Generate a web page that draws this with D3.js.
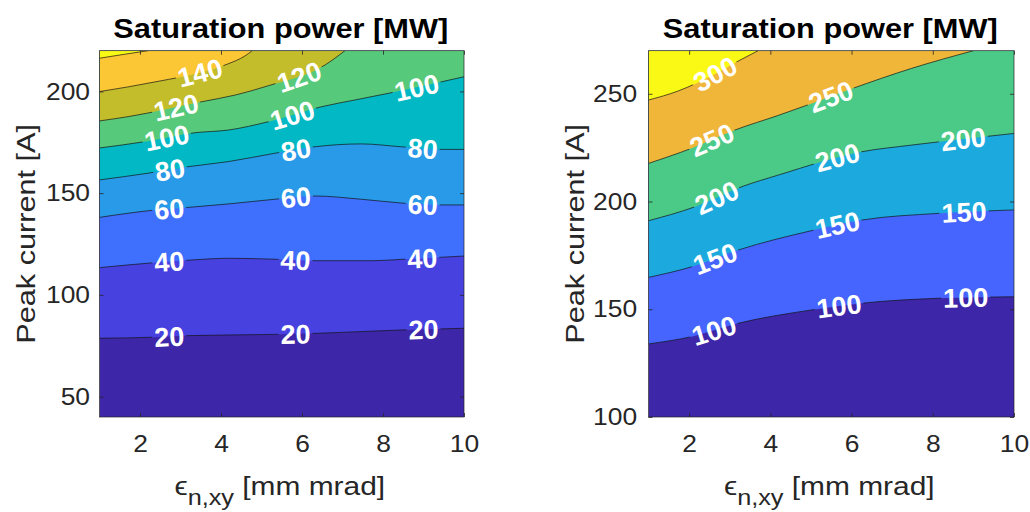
<!DOCTYPE html>
<html>
<head>
<meta charset="utf-8">
<script src="https://cdn.jsdelivr.net/npm/d3@7"></script>
<style>
  body { margin: 0; background: #fff; }
  svg { display: block; }
</style>
</head>
<body>
<svg id="fig" width="1030" height="512"></svg>
<script>
// ---------- shared axis data ----------
const xTicks = [2, 4, 6, 8, 10];
const xDomain = [1, 10];

// ---------- left panel: saturation power, levels 20..160 MW ----------
const leftYDomain = [40, 220];
const leftYTicks = [50, 100, 150, 200];
const leftLevels = [20, 40, 60, 80, 100, 120, 140, 160];
const leftColors = ["#3e26a8", "#4641df", "#3f6ffd", "#289ae8", "#02b8c4", "#57c97a", "#c3bd2b", "#fcc734", "#f8fa16"];
// contour lines as [emittance, peak current] points
const left20  = [[1, 78.7], [2.33, 79.2], [3.23, 80.0], [5.37, 80.6], [6.36, 81.1], [8.49, 82.8], [10, 83.6]];
const left40  = [[1, 113.4], [2.33, 115.8], [3.23, 117.1], [4.22, 118.0], [5.37, 117.5], [6.36, 116.8], [7.75, 116.8], [8.49, 117.5], [10, 119.1]];
const left60  = [[1, 138.1], [2.37, 141.7], [3.19, 143.0], [4.18, 144.7], [5.33, 147.0], [6.32, 148.6], [7.47, 147.0], [8.54, 145.0], [9.44, 144.2], [10, 144.2]];
const left80  = [[1, 156.5], [2.2, 159.8], [3.19, 163.0], [4.18, 165.5], [5.33, 169.6], [6.32, 172.8], [7.47, 174.2], [8.45, 172.8], [9.44, 171.5], [10, 171.5]];
const left100 = [[1, 172.2], [2.12, 175.3], [3.36, 179.7], [4.18, 181.0], [5.17, 185.1], [6.49, 192.5], [7.31, 195.8], [8.17, 199.2], [10, 207.2]];
const left120 = [[1, 185.5], [1.71, 187.6], [3.52, 194.9], [4.35, 198.2], [5.17, 202.8], [6.57, 213.0], [7.06, 220]];
const left140 = [[1, 199.9], [1.70, 202.2], [2.49, 205.1], [3.36, 208.6], [4.17, 213.5], [4.59, 217.4], [4.77, 220]];
const left160 = [[1, 216.3], [1.6, 218.2], [2.2, 220]];
// inline labels: [level, emittance position]
const leftLabels = [
  [20, 2.72], [20, 5.84], [20, 9.0],
  [40, 2.72], [40, 5.84], [40, 8.97],
  [60, 2.72], [60, 5.85], [60, 8.98],
  [80, 2.74], [80, 5.85], [80, 8.98],
  [100, 2.66], [100, 5.76], [100, 8.83],
  [120, 2.89], [120, 5.93],
  [140, 3.48]
];

// ---------- right panel: saturation power, levels 100..300 MW ----------
const rightYDomain = [100, 270];
const rightYTicks = [100, 150, 200, 250];
const rightLevels = [100, 150, 200, 250, 300];
const rightColors = ["#3e26a8", "#4565fe", "#1caade", "#4bca87", "#efb639", "#f9f915"];
const right100 = [[1, 133.9], [2.06, 137.3], [3.21, 143.5], [5.02, 149.7], [6.25, 152.8], [8.14, 155.1], [10, 155.8]];
const right150 = [[1, 164.8], [2.06, 169.7], [3.21, 177.5], [5.02, 186.5], [6.25, 191.4], [8.14, 194.5], [10, 196.1]];
const right200 = [[1, 191.1], [2.15, 197.6], [3.30, 206.9], [4.2, 212.3], [6.25, 223.1], [7.48, 226.2], [10, 231.6]];
const right250 = [[1, 217.7], [2.06, 224.7], [3.13, 233.2], [4.2, 240.0], [5.02, 245.5], [6.0, 252.3], [7.48, 261.8], [9.0, 270]];
const right300 = [[1, 247.1], [1.73, 251.3], [2.64, 259.2], [3.21, 265.2], [3.70, 270]];
const rightLabels = [
  [100, 2.61], [100, 5.69], [100, 8.81],
  [150, 2.64], [150, 5.65], [150, 8.77],
  [200, 2.68], [200, 5.65], [200, 8.75],
  [250, 2.56], [250, 5.49],
  [300, 2.64]
];

// ---------- drawing ----------
const W = 1030, H = 512;
const PLOT_TOP = 50.7, PLOT_BOTTOM = 417;
const FONT = "'Liberation Sans', Arial, Helvetica, sans-serif";
const AXIS_INK = "#262626";
const LABEL_SIZE = 27;

const svg = d3.select("#fig");
const defs = svg.append("defs");

function panel(opt) {
  const x = d3.scaleLinear().domain(xDomain).range([opt.x0, opt.x1]);
  const y = d3.scaleLinear().domain(opt.yDomain).range([PLOT_BOTTOM, PLOT_TOP]);
  const g = svg.append("g");
  const yTop = y(opt.yDomain[1]), yBot = y(opt.yDomain[0]);
  const xL = x(xDomain[0]), xR = x(xDomain[1]);

  defs.append("clipPath").attr("id", opt.id + "-clip")
    .append("rect").attr("x", xL).attr("y", yTop)
    .attr("width", xR - xL).attr("height", yBot - yTop);

  const plot = g.append("g").attr("clip-path", `url(#${opt.id}-clip)`);

  // filled bands: lowest band first, each level paints the region above its line
  plot.append("rect").attr("x", xL).attr("y", yTop)
    .attr("width", xR - xL).attr("height", yBot - yTop)
    .attr("fill", opt.colors[0]);

  const line = d3.line().x(d => x(d[0])).y(d => y(d[1])).curve(d3.curveMonotoneX);

  opt.lines.forEach((pts, i) => {
    const last = pts[pts.length - 1];
    plot.append("path")
      .attr("d", line(pts) + `L${x(last[0])},${yTop}L${xL},${yTop}Z`)
      .attr("fill", opt.colors[i + 1]);
  });

  // contour strokes, with gaps where the labels sit
  const mask = defs.append("mask").attr("id", opt.id + "-mask")
    .attr("maskUnits", "userSpaceOnUse")
    .attr("x", 0).attr("y", 0).attr("width", W).attr("height", H);
  mask.append("rect").attr("width", W).attr("height", H).attr("fill", "#fff");

  const strokes = plot.append("g").attr("mask", `url(#${opt.id}-mask)`);
  const byLevel = new Map();
  opt.lines.forEach((pts, i) => {
    const p = strokes.append("path")
      .attr("d", line(pts))
      .attr("fill", "none")
      .attr("stroke", "#141414")
      .attr("stroke-width", 0.7);
    byLevel.set(opt.levels[i], p.node());
  });

  const labelG = plot.append("g");
  opt.labels.forEach(([lev, xv]) => {
    const node = byLevel.get(lev);
    const target = x(xv);
    const len = node.getTotalLength();
    let lo = 0, hi = len;
    for (let k = 0; k < 40; k++) {
      const mid = (lo + hi) / 2;
      if (node.getPointAtLength(mid).x < target) lo = mid; else hi = mid;
    }
    const s = (lo + hi) / 2;
    const p = node.getPointAtLength(s);
    const a = node.getPointAtLength(Math.max(0, s - 10));
    const b = node.getPointAtLength(Math.min(len, s + 10));
    const ang = Math.atan2(b.y - a.y, b.x - a.x) * 180 / Math.PI;
    const tf = `translate(${p.x},${p.y}) rotate(${ang})`;
    const t = labelG.append("text")
      .attr("transform", tf)
      .attr("text-anchor", "middle")
      .attr("dy", "0.36em")
      .attr("font-family", FONT)
      .attr("font-weight", "bold")
      .attr("font-size", LABEL_SIZE)
      .attr("fill", "#fff")
      .text(lev);
    const w = t.node().getComputedTextLength();
    mask.append("rect")
      .attr("x", -w / 2 - 2).attr("y", -11)
      .attr("width", w + 4).attr("height", 22)
      .attr("transform", tf)
      .attr("fill", "#000");
  });

  // axes: inward ticks on all four sides
  const styleAxis = sel => {
    sel.select(".domain").remove();
    sel.attr("font-family", FONT).attr("font-size", 24);
    sel.selectAll(".tick line").attr("stroke", AXIS_INK).attr("stroke-width", 0.8);
    sel.selectAll(".tick text").attr("fill", AXIS_INK).attr("transform", "scale(1.1,1)");
  };
  g.append("g").attr("transform", `translate(0,${yBot})`)
    .call(d3.axisBottom(x).tickValues(xTicks).tickSizeInner(-4).tickSizeOuter(0).tickPadding(18))
    .call(styleAxis);
  g.append("g").attr("transform", `translate(0,${yTop})`)
    .call(d3.axisTop(x).tickValues(xTicks).tickSizeInner(-4).tickSizeOuter(0).tickFormat(""))
    .call(styleAxis);
  g.append("g").attr("transform", `translate(${xL},0)`)
    .call(d3.axisLeft(y).tickValues(opt.yTicks).tickSizeInner(-4).tickSizeOuter(0).tickPadding(opt.yPad))
    .call(styleAxis);
  g.append("g").attr("transform", `translate(${xR},0)`)
    .call(d3.axisRight(y).tickValues(opt.yTicks).tickSizeInner(-4).tickSizeOuter(0).tickFormat(""))
    .call(styleAxis);

  g.append("rect").attr("x", xL).attr("y", yTop)
    .attr("width", xR - xL).attr("height", yBot - yTop)
    .attr("fill", "none").attr("stroke", AXIS_INK).attr("stroke-width", 0.7);

  const cx = (xL + xR) / 2;

  // title
  g.append("text")
    .attr("transform", `translate(${cx - 1},38) scale(1.14,1)`)
    .attr("text-anchor", "middle")
    .attr("font-family", FONT).attr("font-weight", "bold").attr("font-size", 27)
    .attr("fill", "#000")
    .text("Saturation power [MW]");

  // y label
  g.append("text")
    .attr("transform", `translate(${opt.yLabelX},${(yTop + yBot) / 2}) rotate(-90) scale(1.18,1)`)
    .attr("text-anchor", "middle")
    .attr("font-family", FONT).attr("font-size", 26)
    .attr("fill", AXIS_INK)
    .text("Peak current [A]");

  // x label with subscript
  const xl = g.append("text")
    .attr("transform", `translate(${cx - 2},494.5) scale(1.15,1)`)
    .attr("text-anchor", "middle")
    .attr("font-family", FONT).attr("font-size", 26)
    .attr("fill", AXIS_INK)
    .style("white-space", "pre");
  xl.append("tspan").text("\u03f5");
  xl.append("tspan").attr("font-size", 22).attr("dy", 10).text("n,xy");
  xl.append("tspan").attr("dy", -10).text(" [mm mrad]");
}

panel({
  id: "left", x0: 99.5, x1: 464, yDomain: leftYDomain, yTicks: leftYTicks, yPad: 8.6,
  levels: leftLevels, colors: leftColors,
  lines: [left20, left40, left60, left80, left100, left120, left140, left160],
  labels: leftLabels, yLabelX: 34.5
});

panel({
  id: "right", x0: 648.5, x1: 1014, yDomain: rightYDomain, yTicks: rightYTicks, yPad: 10.4,
  levels: rightLevels, colors: rightColors,
  lines: [right100, right150, right200, right250, right300],
  labels: rightLabels, yLabelX: 583.5
});
</script>
</body>
</html>
